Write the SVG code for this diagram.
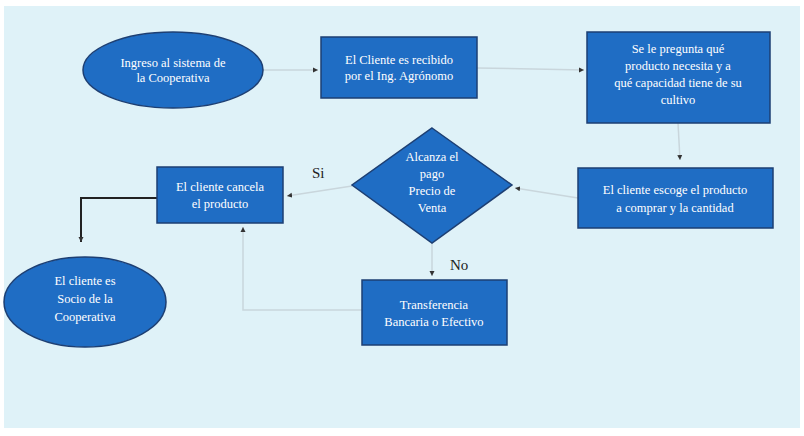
<svg xmlns="http://www.w3.org/2000/svg" width="804" height="436" viewBox="0 0 804 436">
<defs>
<style>
.n{fill:#1f6dc4;stroke:#1d3f73;stroke-width:1.5}
.t{font-family:"Liberation Serif","Times New Roman",serif;font-size:12.5px;fill:#ffffff;text-anchor:middle}
.c{fill:none;stroke:#c9d6dc;stroke-width:1.5}
.k{fill:none;stroke:#222222;stroke-width:2}
.l{font-family:"Liberation Serif","Times New Roman",serif;font-size:15px;fill:#222222}
</style>
<marker id="a" markerWidth="6" markerHeight="6" refX="5" refY="3" orient="auto" markerUnits="userSpaceOnUse">
<path d="M0,0.5 L5,3 L0,5.5 Z" fill="#333333"/>
</marker>
</defs>
<rect x="0" y="0" width="804" height="436" fill="#ffffff"/>
<rect x="4" y="6" width="796" height="422" fill="#dff2f8"/>
<g id="connectors">
<path class="c" d="M263,70 L318,70" marker-end="url(#a)"/>
<path class="c" d="M477,68 L584,70" marker-end="url(#a)"/>
<path class="c" d="M678,123 L680,160" marker-end="url(#a)"/>
<path class="c" d="M578,198 L515,188" marker-end="url(#a)"/>
<path class="c" d="M352,186 L287,196" marker-end="url(#a)"/>
<path class="c" d="M432,243 L432,276" marker-end="url(#a)"/>
<path class="c" d="M362,310 L243,310 L243,227" marker-end="url(#a)"/>
<path class="k" d="M157,198 L81,198 L81,242" marker-end="url(#a)"/>
<text class="l" x="312" y="178">Si</text>
<text class="l" x="450" y="270">No</text>
</g>
<g id="n1">
<ellipse class="n" cx="173" cy="70" rx="90" ry="38"/>
<text class="t" x="173" y="67">Ingreso al sistema de</text>
<text class="t" x="173" y="82">la Cooperativa</text>
</g>
<g id="n2">
<rect class="n" x="321" y="37" width="156" height="61"/>
<text class="t" x="399" y="64">El Cliente es recibido</text>
<text class="t" x="399" y="80">por el Ing. Agrónomo</text>
</g>
<g id="n3">
<rect class="n" x="587" y="32" width="183" height="91"/>
<text class="t" x="678" y="53">Se le pregunta qué</text>
<text class="t" x="678" y="70">producto necesita y a</text>
<text class="t" x="678" y="87">qué capacidad tiene de su</text>
<text class="t" x="678" y="104">cultivo</text>
</g>
<g id="n4">
<rect class="n" x="578" y="168" width="195" height="60"/>
<text class="t" x="675" y="194">El cliente escoge el producto</text>
<text class="t" x="675" y="212">a comprar y la cantidad</text>
</g>
<g id="n5">
<polygon class="n" points="432,128 512,185 432,243 352,185"/>
<text class="t" x="432" y="161">Alcanza el</text>
<text class="t" x="432" y="178">pago</text>
<text class="t" x="432" y="195">Precio de</text>
<text class="t" x="432" y="212">Venta</text>
</g>
<g id="n6">
<rect class="n" x="157" y="167" width="126" height="56"/>
<text class="t" x="220" y="191">El cliente cancela</text>
<text class="t" x="220" y="208">el producto</text>
</g>
<g id="n7">
<ellipse class="n" cx="85" cy="302" rx="81" ry="45"/>
<text class="t" x="85" y="285">El cliente es</text>
<text class="t" x="85" y="303">Socio de la</text>
<text class="t" x="85" y="321">Cooperativa</text>
</g>
<g id="n8">
<rect class="n" x="362" y="280" width="145" height="65"/>
<text class="t" x="434" y="309">Transferencia</text>
<text class="t" x="434" y="326">Bancaria o Efectivo</text>
</g>
</svg>
